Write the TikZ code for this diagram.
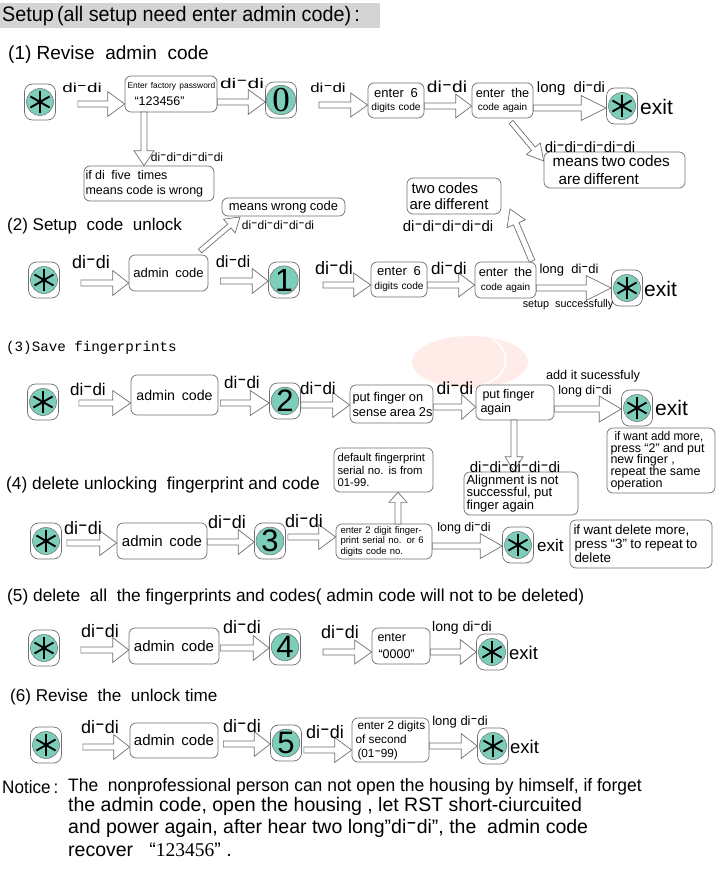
\documentclass[tikz,border=0pt]{standalone}
\usepackage{fontspec}
\usepackage{graphicx}
\setmainfont{Liberation Sans}
\newfontfamily\ser{Liberation Serif}
\newfontfamily\mon{Liberation Mono}
\usetikzlibrary{calc}
\newcommand\fs[1]{\fontsize{#1}{#1}\selectfont}
\newcommand\fl[2]{\fontsize{#1}{#2}\selectfont}
\newcommand\sx[2]{\scalebox{#1}[1]{#2}}
\newcommand\h{\raisebox{.22em}{\scalebox{1.6}[1]{-}}}
\newcommand\dd{di\h di}
\newcommand\five{di\h di\h di\h di\h di}
\definecolor{edge}{HTML}{6F6F6F}
\definecolor{disc}{HTML}{7CCDB9}
\def\blkgap{0}\def\blkhl{17}\def\blkhw{12}\def\blks{3}
\tikzset{
  x=1pt,y=-1pt,
  gap/.code={\def\blkgap{#1}},
  hl/.code={\def\blkhl{#1}},
  hw/.code={\def\blkhw{#1}},
  sw/.code={\def\blks{#1}},
  blk/.style={draw=edge,fill=white,line width=.7pt,line join=miter,
    to path={
      coordinate (S) at ($(\tikztostart)!\blkgap pt!(\tikztotarget)$)
      coordinate (T) at (\tikztotarget)
      coordinate (H) at ($(T)!\blkhl pt!(S)$)
      ($(S)!\blks pt!90:(T)$) -- ($(H)!\blks pt!-90:(S)$) -- ($(H)!\blkhw pt!-90:(S)$) -- (T)
      -- ($(H)!\blkhw pt!90:(S)$) -- ($(H)!\blks pt!90:(S)$) -- ($(S)!\blks pt!-90:(T)$) -- cycle}},
  boxst/.style={draw=edge,fill=white,line width=.7pt,rounded corners=6pt,inner sep=1.5pt,align=left,anchor=center},
  keyb/.style={draw=edge,fill=white,line width=.7pt,rounded corners=8pt,minimum width=31pt,minimum height=36pt,inner sep=0pt},
  dsc/.style={circle,draw=edge,line width=.5pt,fill=disc,minimum size=27pt,inner sep=0pt},
  lab/.style={inner sep=0pt,anchor=center},
  left lab/.style={inner sep=0pt,anchor=west},
}
\newcommand\bx[7][]{%
  \pgfmathsetmacro\bw{#4-#2}\pgfmathsetmacro\bh{#5-#3}\pgfmathsetmacro\bcx{(#2+#4)/2}\pgfmathsetmacro\bcy{(#3+#5)/2}%
  \pgfmathsetmacro\btw{\bw-3}%
  \node[boxst,minimum width=\bw pt,minimum height=\bh pt,text width=\btw pt,#1] (#6) at (\bcx,\bcy) {#7\par};}
\newcommand\starkey[3]{%
  \node[keyb] (#1) at (#2,#3) {};
  \node[dsc] (#1d) at (#1.center) {};
  \foreach \a in {90,30,-30}{\draw[line width=1.9pt,black] ($(#1d)+(\a:11)$) -- ($(#1d)+(\a+180:11)$);}
}
\begin{document}
\begin{tikzpicture}
\useasboundingbox (0,0) rectangle (720,880);
\fill[white] (0,0) rectangle (720,880);
% watermark
\fill[red!70!orange!9] (470,362) ellipse (58 and 26);
\draw[white,line width=1.6pt] (492,338) .. controls (512,352) and (512,378) .. (478,386);
% header
\fill[black!17] (0,3) rectangle (380,28);
\node[left lab,font=\fs{21}] (title) at (2,16) {\sx{.94}{Setup\,(all setup need enter admin code)\,:}};
\node[left lab,font=\fs{19}] (s1) at (8,55) {(1) Revise\ \ admin\ \ code};
% ---- row 1
\starkey{ka}{40}{102}
\bx[align=left]{125}{76}{217}{112}{ba}{{\fs{8.4}\hspace*{1pt}Enter factory password}\\[5pt]{\fs{12.5}\hspace*{8pt}“123456”}}
\node[keyb] (k0) at (281,100) {};
\node[dsc,font=\ser\fontsize{35}{35}\selectfont] (k0d) at (k0.center) {0};
\bx[align=center]{368}{83}{424}{118}{bb}{{\fs{13}enter\ \ 6}\\[1pt]{\fs{10.2}digits code}}
\bx[align=center]{472}{83}{533}{118}{bc}{{\fs{12.7}enter\ \ the}\\[1pt]{\fs{10}code again}\par\vspace*{7pt}}
\starkey{kb}{622}{106}
\node[left lab,font=\fs{21}] (xa) at (640,107) {exit};
\bx{84}{166}{214}{201}{bd}{\fl{12.5}{15}if di\ \ five\ \ times\\means code is wrong}
\bx{544}{152}{685}{188}{be}{\fl{15.3}{18.5}\hspace*{7pt}means two codes\\\hspace*{13pt}are different}
\draw[blk,gap=22,hl=17,hw=12.5] (ka.east |- 0,104) to (ba.west |- 0,104);
\draw[blk,hl=17,hw=12.5] (ba.east |- 0,102) to (k0.west |- 0,102);
\coordinate (gz) at (144,112);
\draw[blk,hl=15,hw=10] (gz) to (gz |- bd.north);
\coordinate (ga) at (319,105);
\draw[blk] (ga) to (bb.west |- 0,105);
\draw[blk,hl=16,hw=12] (bb.east |- 0,106) to (bc.west |- 0,106);
\draw[blk,hl=25,hw=12.5] (bc.east |- 0,108) to (kb.west |- 0,108);
\coordinate (gb) at (511,122);
\draw[blk,sw=2.5,hl=16,hw=9] (gb) to (be.west |- 0,161);
\node[lab,font=\fs{13}] (la1) at (82,88) {\sx{1.45}{\dd}};
\node[lab,font=\fs{14}] (la2) at (242,83) {\sx{1.5}{\dd}};
\node[lab,font=\fs{13}] (la3) at (328,88) {\sx{1.3}{\dd}};
\node[lab,font=\fs{16}] (la4) at (447,87) {\sx{1.2}{\dd}};
\node[lab,font=\fs{15}] (la5) at (571,89) {long\ \ \dd};
\node[lab,font=\fs{12}] (la6) at (187,157) {\five};
\node[lab,font=\fs{15}] (la7) at (590,147) {\five};
% ---- row 2
\node[left lab,font=\fs{17}] (s2) at (7,226) {(2) Setup\ \ code\ \ unlock};
\starkey{kc}{44}{280}
\bx[align=center]{129}{255}{208}{291}{bf}{\fs{13}admin\ \ code}
\node[keyb] (k1) at (284,280) {};
\node[dsc,font=\fs{32}] (k1d) at (k1.center) {1};
\bx[align=center]{371}{262}{427}{297}{bg}{{\fs{13}enter\ \ 6}\\[2pt]{\fs{10.2}digits code}}
\bx[align=center]{475}{262}{536}{298}{bh}{{\fs{12.7}enter\ \ the}\\[2pt]{\fs{10}code again}}
\starkey{kd}{627}{288}
\node[left lab,font=\fs{21}] (xb) at (644,289) {exit};
\bx[align=center]{222}{198}{345}{216}{bi}{\fs{13}means wrong code}
\bx{407}{178}{501}{214}{bj}{\fl{15}{15.5}\hspace*{3pt}two codes\\\hspace*{1pt}are different}
\draw[blk,gap=21,hl=16,hw=12.5] (kc.east |- 0,283) to (bf.west |- 0,283);
\draw[blk,gap=12,hl=16,hw=12.5] (bf.east |- 0,281) to (k1.west |- 0,281);
\coordinate (gc) at (323,285);
\draw[blk] (gc) to (bg.west |- 0,285);
\draw[blk,hl=16,hw=12] (bg.east |- 0,285) to (bh.west |- 0,285);
\draw[blk,hl=25,hw=12.5] (bh.east |- 0,288) to (kd.west |- 0,288);
\coordinate (gd) at (200,251);
\coordinate (ge) at (240,217);
\draw[blk,sw=2.5,hl=14,hw=9] (gd) to (ge);
\coordinate (gf) at (532,261);
\coordinate (gg) at (510,209);
\draw[blk,sw=3,hl=16,hw=10] (gf) to (gg);
\node[lab,font=\fs{18}] (lb1) at (91,262) {\dd};
\node[lab,font=\fs{16.5}] (lb2) at (233,262) {\dd};
\node[lab,font=\fs{18}] (lb3) at (334,268) {\dd};
\node[lab,font=\fs{17}] (lb4) at (449,268) {\dd};
\node[lab,font=\fs{13}] (lb5) at (569,270) {long\ \ \dd};
\node[lab,font=\fs{12}] (lb6) at (278,225) {\five};
\node[lab,font=\fs{15}] (lb7) at (448,226) {\five};
\node[lab,font=\fs{11}] (lb8) at (568,305) {\sx{.98}{setup\ \ successfully}};
% ---- row 3
\node[left lab,font=\mon\fontsize{14.2}{14.2}\selectfont] (s3) at (6,348) {(3)Save fingerprints};
\starkey{ke}{43}{402}
\bx[align=center]{131}{375}{218}{415}{bk}{\fs{14.2}admin\ \ code}
\node[keyb] (k2) at (285,401) {};
\node[dsc,font=\fs{31}] (k2d) at (k2.center) {2};
\bx{350}{385}{433}{423}{bl}{\fl{12.8}{15}\hspace*{1pt}put finger on\\\hspace*{1pt}\mbox{sense area 2s}}
\bx{476}{385}{554}{420}{bm}{\fl{12.5}{14.5}\hspace*{5pt}put finger\\\hspace*{3pt}again}
\starkey{kf}{637}{408}
\node[left lab,font=\fs{21}] (xc) at (655,408) {exit};
\bx{607}{428}{715}{493}{bn}{\fl{12.5}{11.7}\hspace*{6pt}\sx{.93}{if want add more,}\\\hspace*{2pt}press “2" and put\\\hspace*{2pt}new finger ,\\\hspace*{2pt}repeat the same\\\hspace*{2pt}operation}
\bx{464}{472}{578}{515}{bo}{\fl{13}{12.7}\hspace*{1pt}Alignment is not\\\hspace*{1pt}successful, put\\\hspace*{1pt}finger again}
\draw[blk,gap=20,hl=18,hw=12.5] (ke.east |- 0,403) to (bk.west |- 0,403);
\draw[blk,gap=2,hl=19,hw=12.5] (bk.east |- 0,403) to (k2.west |- 0,403);
\draw[blk,hl=17,hw=12.5] (k2.east |- 0,405) to (bl.west |- 0,405);
\draw[blk,hl=14,hw=12.5] (bl.east |- 0,407) to (bm.west |- 0,407);
\draw[blk,hl=22,hw=13] (bm.east |- 0,409) to (kf.west |- 0,409);
\coordinate (gh) at (514,420);
\draw[blk,hl=15,hw=9] (gh) to (gh |- bo.north);
\node[lab,font=\fs{17}] (lc1) at (88,389) {\dd};
\node[lab,font=\fs{17}] (lc2) at (242,382) {\dd};
\node[lab,font=\fs{17}] (lc3) at (318,388) {\dd};
\node[lab,font=\fs{17.5}] (lc4) at (455,388) {\dd};
\node[lab,font=\fs{12.7}] (lc5) at (593,376) {add it sucessfuly};
\node[lab,font=\fs{12.5}] (lc6) at (585,391) {long \dd};
\node[lab,font=\fs{15}] (lc7) at (515,467) {\five};
% ---- row 4
\node[left lab,font=\fs{17.3}] (s4) at (6,485) {(4) delete unlocking\ \ fingerprint and code};
\starkey{kg}{46}{541}
\bx[align=center]{117}{523}{207}{559}{bp}{\fs{15}admin\ \ code}
\node[keyb] (k3) at (270,541) {};
\node[dsc,font=\fs{31}] (k3d) at (k3.center) {3};
\bx{336}{524}{432}{559}{bq}{\fl{9.5}{10.6}\hspace*{3pt}enter 2 digit finger-\\\hspace*{3pt}print serial no. or 6\\\hspace*{3pt}digits code no.}
\bx{334}{448}{433}{492}{br}{\fl{11.3}{12.5}\hspace*{2pt}default fingerprint\\\hspace*{2pt}serial no. is from\\\hspace*{2pt}01-99.}
\starkey{kh}{518}{545}
\node[left lab,font=\fs{17}] (xd) at (537,545) {exit};
\bx{570}{520}{712}{568}{bs}{\fl{13.4}{13.8}\hspace*{2pt}if want delete more,\\\hspace*{3pt}press “3" to repeat to\\\hspace*{3pt}delete}
\draw[blk,gap=5,hl=17,hw=12.5] (kg.east |- 0,543) to (bp.west |- 0,543);
\draw[blk,hl=16,hw=12.5] (bp.east |- 0,542) to (k3.west |- 0,542);
\draw[blk,gap=2,hl=17,hw=12.5] (k3.east |- 0,537) to (bq.west |- 0,537);
\coordinate (gj) at (398,524);
\draw[blk,hw=9,hl=10] (gj) to (gj |- br.south);
\draw[blk,gap=0,hl=22,hw=12.5] (bq.east |- 0,546) to (kh.west |- 0,546);
\node[lab,font=\fs{18}] (ld1) at (83,528) {\dd};
\node[lab,font=\fs{18}] (ld2) at (227,522) {\dd};
\node[lab,font=\fs{18}] (ld3) at (304,521) {\dd};
\node[lab,font=\fs{12.5}] (ld4) at (464,528) {long \dd};
% ---- row 5
\node[left lab,font=\fs{17.3}] (s5) at (7,597) {(5) delete\ \ all\ \ the fingerprints and codes( admin code will not to be deleted)};
\starkey{ki}{44}{648}
\bx[align=center]{129}{628}{219}{664}{bt}{\fs{15}admin\ \ code}
\node[keyb] (k4) at (285,647) {};
\node[dsc,font=\fs{31}] (k4d) at (k4.center) {4};
\bx{372}{628}{430}{664}{bu}{\fl{12.5}{17}\hspace*{4pt}enter\\\hspace*{5pt}“0000"}
\starkey{kj}{492}{652}
\node[left lab,font=\fs{18.5}] (xe) at (509,653) {exit};
\draw[blk,gap=21,hl=16,hw=12.5] (ki.east |- 0,650) to (bt.west |- 0,650);
\draw[blk,gap=1,hl=16,hw=12.5] (bt.east |- 0,648) to (k4.west |- 0,648);
\coordinate (gi) at (323,652);
\draw[blk] (gi) to (bu.west |- 0,652);
\draw[blk,hl=16,hw=12.5] (bu.east |- 0,652) to (kj.west |- 0,652);
\node[lab,font=\fs{18}] (le1) at (100,631) {\dd};
\node[lab,font=\fs{18}] (le2) at (242,627) {\dd};
\node[lab,font=\fs{18}] (le3) at (340,632) {\dd};
\node[lab,font=\fs{14}] (le4) at (462,628) {long \dd};
% ---- row 6
\node[left lab,font=\fs{17.1}] (s6) at (10,697) {(6) Revise\ \ the\ \ unlock time};
\starkey{kk}{46}{745}
\bx[align=center]{130}{723}{218}{758}{bv}{\fs{15}admin\ \ code}
\node[keyb] (k5) at (286,743) {};
\node[dsc,font=\fs{31}] (k5d) at (k5.center) {5};
\bx{352}{718}{429}{762}{bw}{\fl{11.8}{14}\hspace*{4pt}enter 2 digits\\\hspace*{2pt}of second\\\hspace*{4pt}(01\h 99)}
\starkey{kl}{493}{746}
\node[left lab,font=\fs{18.5}] (xf) at (510,747) {exit};
\draw[blk,gap=21,hl=16,hw=12.5] (kk.east |- 0,747) to (bv.west |- 0,747);
\draw[blk,gap=5,hl=16,hw=12.5] (bv.east |- 0,744) to (k5.west |- 0,744);
\draw[blk,gap=2,hl=17,hw=12.5] (k5.east |- 0,750) to (bw.west |- 0,750);
\draw[blk,hl=16,hw=12.5] (bw.east |- 0,746) to (kl.west |- 0,746);
\node[lab,font=\fs{18}] (lf1) at (100,727) {\dd};
\node[lab,font=\fs{18}] (lf2) at (242,726) {\dd};
\node[lab,font=\fs{18}] (lf3) at (325,732) {\dd};
\node[lab,font=\fs{13}] (lf4) at (460,722) {long \dd};
% ---- notice
\node[left lab,font=\fs{18}] (na) at (2,787) {\sx{.95}{Notice\,:}};
\node[left lab,font=\fs{18}] (nb) at (68,787) {\sx{.97}{The\ \ nonprofessional person can not open the housing by himself, if forget}};
\node[left lab,font=\fs{19.5}] (nc) at (68,806) {\sx{1}{the admin code, open the housing , let RST short-ciurcuited}};
\node[left lab,font=\fs{19.5}] (nd) at (68,828) {\sx{1}{and power again, after hear two long"di\h di", the\ \ admin code}};
\node[left lab,font=\fs{19.5}] (ne) at (68,850) {\sx{1}{recover\ \ \ “{\ser 123456}” .}};
\end{tikzpicture}
\end{document}
